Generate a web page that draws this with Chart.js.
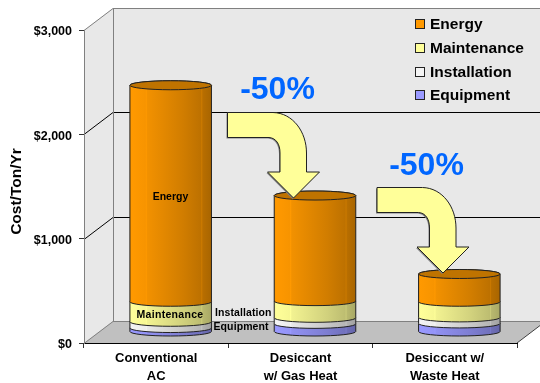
<!DOCTYPE html>
<html>
<head>
<meta charset="utf-8">
<title>Cost per ton per year</title>
<script src="https://cdn.jsdelivr.net/npm/chart.js@4/dist/chart.umd.min.js"></script>
<style>
  html, body { margin: 0; padding: 0; background: #fff; }
  #wrap { width: 540px; height: 383px; }
</style>
</head>
<body>
<div id="wrap"><canvas id="cost-chart" width="540" height="383"></canvas></div>
<script>
const categories = [['Conventional', 'AC'], ['Desiccant', 'w/ Gas Heat'], ['Desiccant w/', 'Waste Heat']];
const equipment = [38, 78, 82];
const installation = [60, 58, 58];
const maintenance = [192, 160, 150];
const energy = [2075, 1012, 266];
const yTicks = [0, 1000, 2000, 3000];

const seriesColors = { Energy: '#FF9900', Maintenance: '#FFFF99', Installation: '#F4F4F4', Equipment: '#9999FF' };
const legendOrder = ['Energy', 'Maintenance', 'Installation', 'Equipment'];
const FONT = '"Liberation Sans", Arial, sans-serif';

// depth of the fake 3D box
const DX = 29, DY = 22;
const ELL = 4.5;

function mix(hex, k) {
  const n = parseInt(hex.slice(1), 16);
  const c = [n >> 16, (n >> 8) & 255, n & 255].map(v => Math.round(v * k));
  return 'rgb(' + c.join(',') + ')';
}

function bodyGradient(ctx, l, r, hex) {
  const g = ctx.createLinearGradient(l, 0, r, 0);
  g.addColorStop(0, mix(hex, 0.93));
  g.addColorStop(0.02, hex);
  g.addColorStop(0.19, mix(hex, 0.97));
  g.addColorStop(0.2, mix(hex, 1.0));
  g.addColorStop(0.215, mix(hex, 0.95));
  g.addColorStop(0.65, mix(hex, 0.82));
  g.addColorStop(0.87, mix(hex, 0.74));
  g.addColorStop(0.88, mix(hex, 0.8));
  g.addColorStop(0.895, mix(hex, 0.72));
  g.addColorStop(1, mix(hex, 0.66));
  return g;
}

// back wall, side wall, floor and the gridlines running round them
const boxPlugin = {
  id: 'box',
  beforeDraw(chart) {
    const { ctx, chartArea: a, scales: { y } } = chart;
    const bl = a.left + DX, br = a.right + DX, top = a.top - DY, floor = a.bottom - DY;
    ctx.save();
    ctx.fillStyle = '#E8E8E8';
    ctx.beginPath();
    ctx.moveTo(a.left, a.top);
    ctx.lineTo(bl, top);
    ctx.lineTo(br, top);
    ctx.lineTo(br, floor);
    ctx.lineTo(bl, floor);
    ctx.lineTo(a.left, a.bottom);
    ctx.closePath();
    ctx.fill();

    ctx.fillStyle = '#C0C0C0';
    ctx.beginPath();
    ctx.moveTo(a.left, a.bottom);
    ctx.lineTo(bl, floor);
    ctx.lineTo(br, floor);
    ctx.lineTo(a.right, a.bottom);
    ctx.closePath();
    ctx.fill();

    ctx.lineWidth = 1;
    yTicks.forEach(v => {
      // keep the wall line on a whole pixel row
      const py = Math.round(y.getPixelForValue(v)) + 0.5;
      const inner = v > 0 && v < 3000;
      ctx.strokeStyle = inner ? '#000' : '#808080';
      ctx.beginPath();
      ctx.moveTo(a.left, py);
      ctx.lineTo(bl, py - DY);
      ctx.lineTo(br, py - DY);
      ctx.stroke();
    });
    ctx.strokeStyle = '#808080';
    ctx.beginPath();
    ctx.moveTo(bl + 0.5, top);
    ctx.lineTo(bl + 0.5, floor);
    ctx.stroke();
    ctx.strokeStyle = '#404040';
    ctx.beginPath();
    ctx.moveTo(a.right, a.bottom);
    ctx.lineTo(br, floor);
    ctx.stroke();
    ctx.restore();
  }
};

function drawArrow(ctx, dx, dy) {
  ctx.save();
  ctx.translate(dx, dy);
  ctx.beginPath();
  ctx.moveTo(227.5, 112.5);
  ctx.lineTo(273, 112.5);
  ctx.bezierCurveTo(293, 113, 306.5, 132, 306.5, 153);
  ctx.lineTo(306.5, 172);
  ctx.lineTo(319.5, 172);
  ctx.lineTo(293.5, 198);
  ctx.lineTo(267.5, 172);
  ctx.lineTo(280, 172);
  ctx.lineTo(280, 153);
  ctx.bezierCurveTo(280, 144, 276, 138, 269, 137.5);
  ctx.lineTo(227.5, 137.5);
  ctx.closePath();
  ctx.shadowColor = '#808080';
  ctx.shadowOffsetX = -1;
  ctx.shadowOffsetY = 1;
  ctx.fillStyle = '#FFFF99';
  ctx.fill();
  ctx.shadowColor = 'transparent';
  ctx.strokeStyle = '#222';
  ctx.lineWidth = 1;
  ctx.stroke();
  ctx.restore();
}

function spacedText(ctx, text, x, y, font, color, align, spacing) {
  ctx.font = font;
  ctx.fillStyle = color;
  ctx.textAlign = align;
  ctx.textBaseline = 'middle';
  ctx.letterSpacing = spacing || '0px';
  ctx.fillText(text, x, y);
  ctx.letterSpacing = '0px';
}

// the bars are stood up as cylinders, pushed back to the middle of the box depth
const cylinderPlugin = {
  id: 'cylinders',
  beforeDatasetDraw() {
    return false;
  },
  afterDatasetsDraw(chart) {
    const { ctx } = chart;
    const count = chart.data.datasets.length;
    ctx.save();
    ctx.translate(DX / 2, -DY / 2);
    for (let i = 0; i < count; i++) {
      const ds = chart.data.datasets[i];
      chart.getDatasetMeta(i).data.forEach(bar => {
        const l = bar.x - bar.width / 2, r = bar.x + bar.width / 2, rx = bar.width / 2;
        ctx.beginPath();
        ctx.moveTo(l, bar.y);
        ctx.lineTo(l, bar.base);
        ctx.ellipse(bar.x, bar.base, rx, ELL, 0, Math.PI, 0, true);
        ctx.lineTo(r, bar.y);
        ctx.ellipse(bar.x, bar.y, rx, ELL, 0, 0, Math.PI, true);
        ctx.closePath();
        ctx.fillStyle = bodyGradient(ctx, l, r, ds.backgroundColor);
        ctx.fill();
        ctx.strokeStyle = '#222';
        ctx.lineWidth = 1;
        ctx.stroke();
        if (i === count - 1) {
          ctx.beginPath();
          ctx.ellipse(bar.x, bar.y, rx, ELL, 0, 0, Math.PI * 2);
          ctx.fillStyle = '#BF7300';
          ctx.fill();
          ctx.stroke();
        }
      });
    }
    ctx.restore();

    drawArrow(ctx, 0, 0);
    drawArrow(ctx, 149.5, 75);

    ctx.save();
    spacedText(ctx, '-50%', 277.5, 90, 'bold 32px ' + FONT, '#0066FF', 'center');
    spacedText(ctx, '-50%', 426.5, 166, 'bold 32px ' + FONT, '#0066FF', 'center');

    const small = 'bold 10.5px ' + FONT;
    spacedText(ctx, 'Energy', 170.5, 197.5, small, '#000', 'center');
    spacedText(ctx, 'Maintenance', 170, 315.5, small, '#000', 'center', '0.3px');
    spacedText(ctx, 'Installation', 215, 313.5, small, '#000', 'left', '0.1px');
    spacedText(ctx, 'Equipment', 213.5, 327.5, small, '#000', 'left', '0.1px');

    legendOrder.forEach((name, i) => {
      const rowY = [24, 48, 72, 95][i];
      ctx.fillStyle = seriesColors[name];
      ctx.fillRect(415.5, rowY - 4.5, 9, 9);
      ctx.strokeStyle = '#222';
      ctx.lineWidth = 1;
      ctx.strokeRect(415.5, rowY - 4.5, 9, 9);
      spacedText(ctx, name, 430, rowY + 0.5, 'bold 15.5px ' + FONT, '#000', 'left');
    });

    // axis title, rotated up the left edge
    ctx.translate(17, 191.5);
    ctx.rotate(-Math.PI / 2);
    spacedText(ctx, 'Cost/Ton/Yr', 0, 0, 'bold 15.5px ' + FONT, '#000', 'center');
    ctx.restore();
  }
};

new Chart(document.getElementById('cost-chart').getContext('2d'), {
  type: 'bar',
  data: {
    labels: categories,
    datasets: [
      { label: 'Equipment', data: equipment, backgroundColor: seriesColors.Equipment },
      { label: 'Installation', data: installation, backgroundColor: seriesColors.Installation },
      { label: 'Maintenance', data: maintenance, backgroundColor: seriesColors.Maintenance },
      { label: 'Energy', data: energy, backgroundColor: seriesColors.Energy }
    ]
  },
  plugins: [boxPlugin, cylinderPlugin],
  options: {
    responsive: false,
    animation: false,
    layout: { padding: { top: 30, right: 23, left: 0, bottom: 0 } },
    datasets: { bar: { barPercentage: 0.565, categoryPercentage: 1 } },
    plugins: { legend: { display: false }, tooltip: { enabled: false } },
    scales: {
      x: {
        stacked: true,
        afterFit(scale) { scale.height = 40; },
        border: { color: '#000' },
        grid: { drawOnChartArea: false, color: '#333', tickLength: 5 },
        ticks: { color: '#000', padding: 2, maxRotation: 0, font: { family: FONT, size: 13, weight: 'bold', lineHeight: 1.35 } }
      },
      y: {
        stacked: true,
        min: 0,
        max: 3000,
        afterFit(scale) { scale.width = 84; },
        afterBuildTicks(scale) { scale.ticks = yTicks.map(value => ({ value })); },
        border: { color: '#808080' },
        grid: { drawOnChartArea: false, color: '#333', tickLength: 5 },
        ticks: {
          color: '#000',
          padding: 7,
          labelOffset: 2,
          font: { family: FONT, size: 12.5, weight: 'bold' },
          callback: v => '$' + v.toLocaleString('en-US')
        }
      }
    }
  }
});
</script>
</body>
</html>
